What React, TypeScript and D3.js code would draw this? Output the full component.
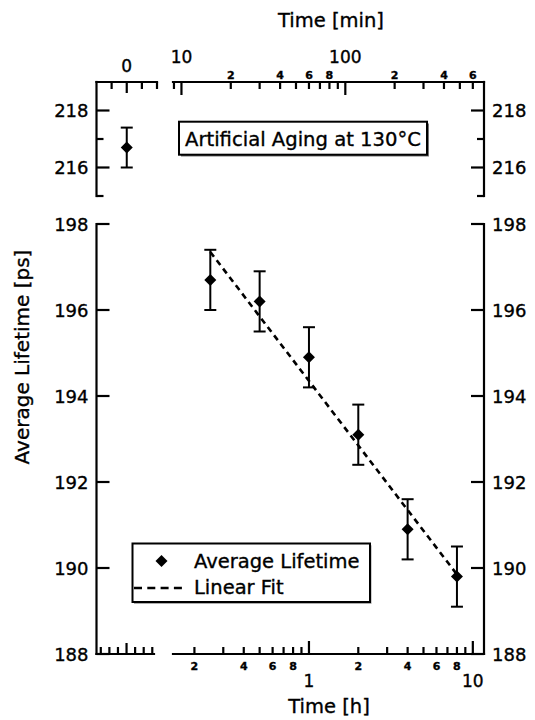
import React from "react";
import * as d3 from "d3";

// aged samples: time in hours, average positron lifetime in ps
const agingHours = [0.25, 0.5, 1, 2, 4, 8];
const lifetimePs = [196.7, 196.2, 194.9, 193.1, 190.9, 189.8];
const lifetimeErr = [0.7, 0.7, 0.7, 0.7, 0.7, 0.7];

// unaged sample (t = 0), drawn in the upper inset
const initialTime = 0;
const initialLifetime = 216.7;
const initialErr = 0.7;

// linear fit (in log time), end points
const fitHours = [0.25, 8];
const fitPs = [197.35, 189.85];

const mainYTicks = [188, 190, 192, 194, 196, 198];
const insetYMajor = [216, 218];
const insetYMinor = [215, 217];

const minuteMajor = [10, 100];
const minuteMinor = [9, 20, 30, 40, 50, 60, 70, 80, 90, 200, 300, 400, 500, 600];
const minuteLabelAt = [20, 40, 60, 80, 200, 400, 600];
const minuteLabelText = ["2", "4", "6", "8", "2", "4", "6"];

const hourMajor = [1, 10];
const hourMinor = [0.2, 0.3, 0.4, 0.5, 0.6, 0.7, 0.8, 0.9, 2, 3, 4, 5, 6, 7, 8, 9];
const hourLabelAt = [0.2, 0.4, 0.6, 0.8, 2, 4, 6, 8];
const hourLabelText = ["2", "4", "6", "8", "2", "4", "6", "8"];

// the broken-off zero-time segments
const breakTopTicks = [-1, 0, 1, 2];
const breakBottomTicks = [-3, -2, -1, 0, 1, 2, 3];

const FONT = "'DejaVu Sans', 'Liberation Sans', Arial, sans-serif";
const SW = 2.2;
const MAJ = 13;
const MIN = 7;

export default function App() {
  const width = 535;
  const height = 720;

  const left = 96.5;
  const right = 484;
  const topAxisY = 82;
  const bottomAxisY = 654;

  const x = d3.scaleLog().domain([0.148, 11.7]).range([173, right]);
  const xMin = (m: number) => x(m / 60);
  const xBreakTop = d3.scaleLinear().domain([-2, 2]).range([left, 157]);
  const xBreakBottom = d3.scaleLinear().domain([-3.5, 3.2]).range([left, 154]);

  const y = d3.scaleLinear().domain([188, 198]).range([bottomAxisY, 224]);
  const yInset = d3.scaleLinear().domain([215, 219]).range([196, topAxisY]);

  const fitLine = d3
    .line<number>()
    .x((d) => x(d))
    .y((d, i) => y(fitPs[i]));

  const diamond = d3.symbol(d3.symbolSquare, 72)();

  const errBar = (cx: number, yTop: number, yBot: number, key: string) => (
    <g key={key} stroke="#000" strokeWidth={2}>
      <line x1={cx} x2={cx} y1={yTop} y2={yBot} />
      <line x1={cx - 6} x2={cx + 6} y1={yTop} y2={yTop} />
      <line x1={cx - 6} x2={cx + 6} y1={yBot} y2={yBot} />
    </g>
  );

  const x0 = xBreakTop(initialTime);

  return (
    <svg
      width={width}
      height={height}
      style={{ position: "absolute", left: 0, top: 0, background: "#fff" }}
      fontFamily={FONT}
    >
      <rect width={width} height={height} fill="#fff" />

      {/* ---- axes lines ---- */}
      <g stroke="#000" strokeWidth={SW} fill="none" strokeLinecap="square">
        {/* top axis, two segments */}
        <line x1={left} x2={xBreakTop(2)} y1={topAxisY} y2={topAxisY} />
        <line x1={x.range()[0]} x2={right} y1={topAxisY} y2={topAxisY} />
        {/* inset side axes */}
        <line x1={left} x2={left} y1={topAxisY} y2={yInset(215)} />
        <line x1={right} x2={right} y1={topAxisY} y2={yInset(215)} />
        {/* bottom axis, two segments */}
        <line x1={left} x2={xBreakBottom.range()[1]} y1={bottomAxisY} y2={bottomAxisY} />
        <line x1={x.range()[0]} x2={right} y1={bottomAxisY} y2={bottomAxisY} />
        {/* main side axes */}
        <line x1={left} x2={left} y1={y(198)} y2={bottomAxisY} />
        <line x1={right} x2={right} y1={y(198)} y2={bottomAxisY} />
      </g>

      {/* ---- ticks ---- */}
      <g stroke="#000" strokeWidth={SW}>
        {breakTopTicks.map((t) => (
          <line key={"bt" + t} x1={xBreakTop(t)} x2={xBreakTop(t)} y1={topAxisY} y2={topAxisY + (t === 0 ? MAJ - 2 : MIN)} />
        ))}
        {breakBottomTicks.map((t) => (
          <line key={"bb" + t} x1={xBreakBottom(t)} x2={xBreakBottom(t)} y1={bottomAxisY} y2={bottomAxisY - (t === 0 ? MAJ - 2 : MIN)} />
        ))}
        {minuteMajor.map((m) => (
          <line key={"mM" + m} x1={xMin(m)} x2={xMin(m)} y1={topAxisY} y2={topAxisY + MAJ} />
        ))}
        {minuteMinor.map((m) => (
          <line key={"mm" + m} x1={xMin(m)} x2={xMin(m)} y1={topAxisY} y2={topAxisY + MIN} />
        ))}
        {hourMajor.map((h) => (
          <line key={"hM" + h} x1={x(h)} x2={x(h)} y1={bottomAxisY} y2={bottomAxisY - MAJ} />
        ))}
        {hourMinor.map((h) => (
          <line key={"hm" + h} x1={x(h)} x2={x(h)} y1={bottomAxisY} y2={bottomAxisY - MIN} />
        ))}
        {mainYTicks.map((v) => (
          <g key={"y" + v}>
            <line x1={left} x2={left + MAJ} y1={y(v)} y2={y(v)} />
            <line x1={right} x2={right - MAJ} y1={y(v)} y2={y(v)} />
          </g>
        ))}
        {insetYMajor.map((v) => (
          <g key={"iM" + v}>
            <line x1={left} x2={left + MAJ} y1={yInset(v)} y2={yInset(v)} />
            <line x1={right} x2={right - MAJ} y1={yInset(v)} y2={yInset(v)} />
          </g>
        ))}
        {insetYMinor.map((v) => (
          <g key={"im" + v}>
            <line x1={left} x2={left + MIN} y1={yInset(v)} y2={yInset(v)} />
            <line x1={right} x2={right - MIN} y1={yInset(v)} y2={yInset(v)} />
          </g>
        ))}
      </g>

      {/* all text gets a hairline stroke so it reads as heavy as the scan */}
      <g fill="#000" stroke="#000" strokeWidth={0.35}>
        {/* ---- tick labels ---- */}
        {mainYTicks.map((v) => (
          <g key={"yl" + v} fontSize={18}>
            <text x={left - 8} y={y(v) + 6.5} textAnchor="end">{v}</text>
            <text x={right + 8} y={y(v) + 6.5}>{v}</text>
          </g>
        ))}
        {insetYMajor.map((v) => (
          <g key={"il" + v} fontSize={18}>
            <text x={left - 8} y={yInset(v) + 6.5} textAnchor="end">{v}</text>
            <text x={right + 8} y={yInset(v) + 6.5}>{v}</text>
          </g>
        ))}
        <text x={xBreakTop(0)} y={72} fontSize={17} textAnchor="middle">0</text>
        {minuteMajor.map((m) => (
          <text key={"mlM" + m} x={xMin(m)} y={63} fontSize={17} textAnchor="middle">{m}</text>
        ))}
        {minuteLabelAt.map((m, i) => (
          <text key={"mlm" + m} x={xMin(m)} y={78.5} fontSize={11} fontWeight="bold" textAnchor="middle">{minuteLabelText[i]}</text>
        ))}
        {hourLabelAt.map((h, i) => (
          <text key={"hlm" + h} x={x(h)} y={669.5} fontSize={11} fontWeight="bold" textAnchor="middle">{hourLabelText[i]}</text>
        ))}
        {hourMajor.map((h) => (
          <text key={"hlM" + h} x={x(h)} y={687} fontSize={17} textAnchor="middle">{h}</text>
        ))}

        {/* ---- axis titles ---- */}
        <text x={331} y={27} fontSize={19.5} textAnchor="middle">Time [min]</text>
        <text x={329} y={713} fontSize={19.5} textAnchor="middle">Time [h]</text>
        <text transform={`translate(29, 357) rotate(-90)`} fontSize={20} textAnchor="middle">
          Average Lifetime [ps]
        </text>
      </g>

      {/* ---- title box ---- */}
      <rect x={181} y={123.5} width={248} height={33} fill="#000" opacity={0.55} />
      <rect x={179} y={121.7} width={248} height={33} fill="#fff" stroke="#000" strokeWidth={2} />
      <text x={303} y={146} fontSize={19.6} textAnchor="middle" stroke="#000" strokeWidth={0.35}>
        Artificial Aging at 130°C
      </text>

      {/* ---- inset point (t = 0) ---- */}
      {errBar(x0, yInset(initialLifetime + initialErr), yInset(initialLifetime - initialErr), "e0")}
      <path d={diamond} transform={`translate(${x0},${yInset(initialLifetime)}) rotate(45)`} fill="#000" />

      {/* ---- linear fit ---- */}
      <path
        d={fitLine(fitHours) || ""}
        fill="none"
        stroke="#000"
        strokeWidth={2.6}
        strokeDasharray="6,4.5"
      />

      {/* ---- aged points ---- */}
      {agingHours.map((h, i) =>
        errBar(x(h), y(lifetimePs[i] + lifetimeErr[i]), y(lifetimePs[i] - lifetimeErr[i]), "e" + h)
      )}
      {agingHours.map((h, i) => (
        <path
          key={"p" + h}
          d={diamond}
          transform={`translate(${x(h)},${y(lifetimePs[i])}) rotate(45)`}
          fill="#000"
        />
      ))}

      {/* ---- legend ---- */}
      <rect x={134} y={545.3} width={237.5} height={58.5} fill="#000" opacity={0.4} />
      <rect x={132.5} y={543.5} width={237.5} height={58.5} fill="#fff" stroke="#000" strokeWidth={2} />
      <path d={diamond} transform={`translate(161.5,561) rotate(45)`} fill="#000" />
      <line x1={134} x2={182} y1={588} y2={588} stroke="#000" strokeWidth={2.4} strokeDasharray="8,5.3" />
      <g stroke="#000" strokeWidth={0.35}>
        <text x={194} y={568} fontSize={19.5}>Average Lifetime</text>
        <text x={194} y={593.5} fontSize={19.5}>Linear Fit</text>
      </g>
    </svg>
  );
}
